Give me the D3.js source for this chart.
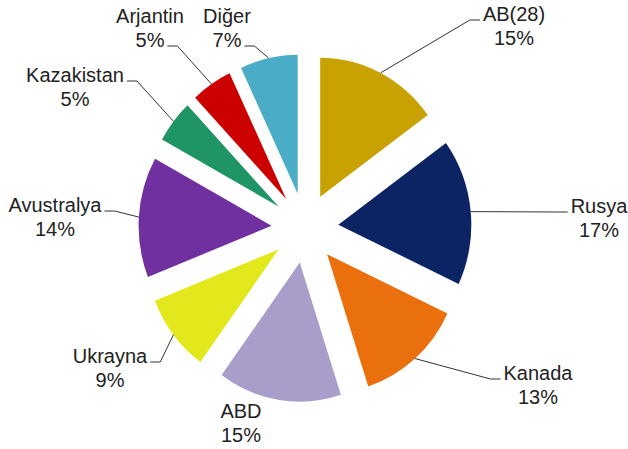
<!DOCTYPE html>
<html>
<head>
<meta charset="utf-8">
<script src="https://cdn.jsdelivr.net/npm/d3@7"></script>
<style>
  body { margin: 0; background: #fff; }
  svg text { font-family: "Liberation Sans", Arial, sans-serif; font-size: 20px; fill: #222; }
</style>
</head>
<body>
<div id="chart"></div>
<script>
// data
var names  = ["AB(28)", "Rusya", "Kanada", "ABD", "Ukrayna", "Avustralya", "Kazakistan", "Arjantin", "Diğer"];
var shares = [15, 17, 13, 15, 9, 14, 5, 5, 7];
var colors = ["#C8A200", "#0C2463", "#EA700E", "#A99DC9", "#E3E81C", "#7030A0", "#1F9464", "#CC0000", "#4AACC6"];

// where each label sits (text centre x, first baseline y) and which line / side the leader meets
var labelLayout = [
	{ x: 514, y: 21,  line: 0, side: "left" },
	{ x: 599, y: 213, line: 0, side: "left" },
	{ x: 538, y: 380, line: 0, side: "left" },
	{ x: 241, y: 418, line: -1 },
	{ x: 110, y: 363, line: 0, side: "right" },
	{ x: 55,  y: 212, line: 0, side: "right" },
	{ x: 75,  y: 82,  line: 0, side: "right" },
	{ x: 150, y: 23,  line: 1, side: "right" },
	{ x: 227, y: 23,  line: 1, side: "right" }
];

var _size = { width: 628, height: 449 };
var _center = { x: 305, y: 228 };
var _scale = { x: 0.985, y: 1.03 };   // the original pie is a little taller than wide
var _radius = 135;
var _explode = 34;
var _lineGap = 24;

var data = names.map(function (n, i) { return { name: n, value: shares[i], color: colors[i], pos: labelLayout[i] }; });

var pie = d3.pie().sort(null).value(function (d) { return d.value; });
var arc = d3.arc().innerRadius(0).outerRadius(_radius);
var arcs = pie(data);

function dir(a) { return [Math.sin(a), -Math.cos(a)]; }

var svg = d3.select("#chart").append("svg")
	.attr("width", _size.width)
	.attr("height", _size.height);

var g = svg.append("g").attr("transform",
	"translate(" + _center.x + "," + _center.y + ") scale(" + _scale.x + "," + _scale.y + ")");

g.selectAll("path.slice")
	.data(arcs)
	.enter()
	.append("path")
	.attr("class", "slice")
	.attr("d", arc)
	.attr("fill", function (d) { return d.data.color; })
	.attr("transform", function (d) {
		var u = dir((d.startAngle + d.endAngle) / 2);
		return "translate(" + (u[0] * _explode) + "," + (u[1] * _explode) + ")";
	});

// labels
var labels = svg.append("g").attr("class", "labels");
var lines = svg.append("g").attr("class", "leaders");

arcs.forEach(function (d) {
	var p = d.data.pos;
	var t = labels.append("text").attr("text-anchor", "middle");
	t.append("tspan").attr("x", p.x).attr("y", p.y).text(d.data.name);
	t.append("tspan").attr("x", p.x).attr("y", p.y + _lineGap).text(d.data.value + "%");

	if (p.line < 0) return;

	var span = t.selectAll("tspan").nodes()[p.line];
	var w = span.getComputedTextLength();
	var ly = p.y + p.line * _lineGap - 1;
	var s = p.side === "left" ? -1 : 1;
	var edge = p.x + s * (w / 2 + 3);
	var elbow = edge + s * 10;

	// leader starts on the outer edge of the slice, at its middle angle
	var u = dir((d.startAngle + d.endAngle) / 2);
	var r = _explode + _radius;
	var start = [_center.x + u[0] * r * _scale.x, _center.y + u[1] * r * _scale.y];

	lines.append("path")
		.attr("d", d3.line()([[edge, ly], [elbow, ly], start]))
		.attr("fill", "none")
		.attr("stroke", "#333")
		.attr("stroke-width", 1);
});
</script>
</body>
</html>
